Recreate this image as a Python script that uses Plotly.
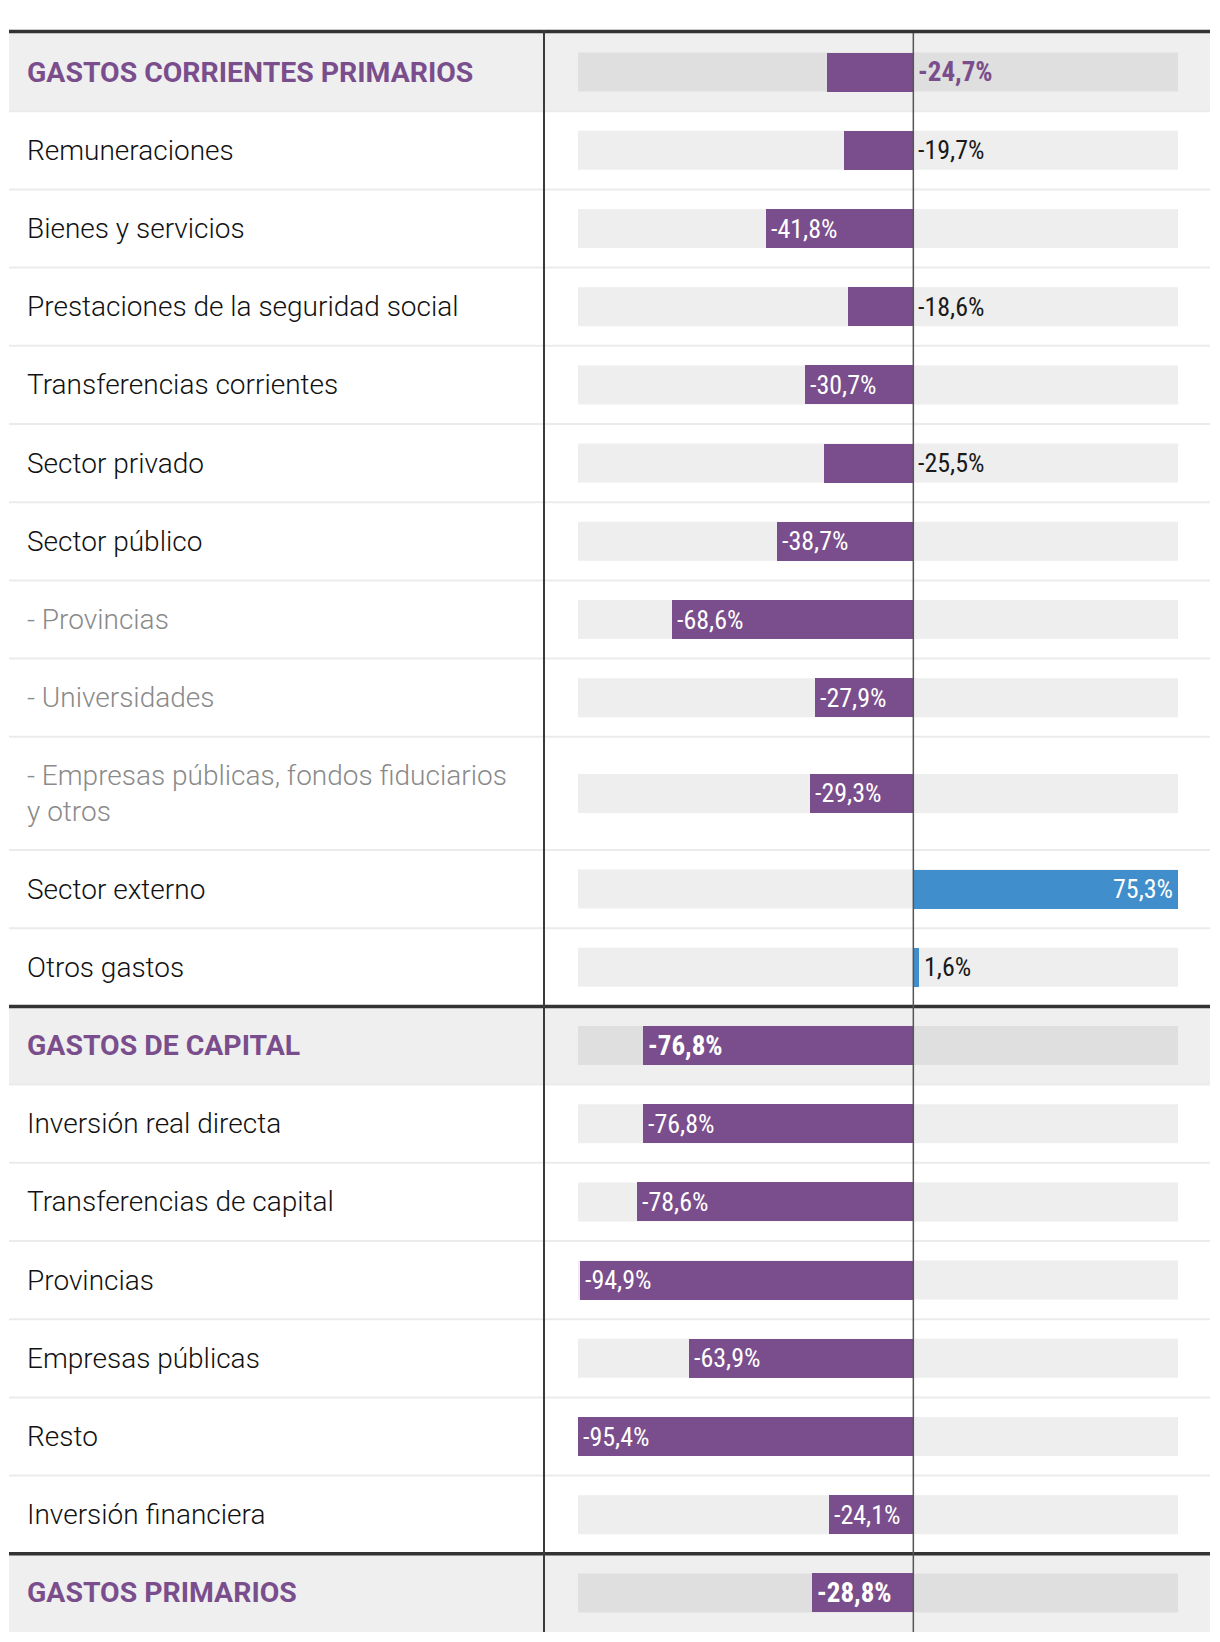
import plotly.graph_objects as go

# ---------------- data ----------------
labels = [
    "GASTOS CORRIENTES PRIMARIOS",
    "Remuneraciones",
    "Bienes y servicios",
    "Prestaciones de la seguridad social",
    "Transferencias corrientes",
    "Sector privado",
    "Sector público",
    "- Provincias",
    "- Universidades",
    "- Empresas públicas, fondos fiduciarios<br>y otros",
    "Sector externo",
    "Otros gastos",
    "GASTOS DE CAPITAL",
    "Inversión real directa",
    "Transferencias de capital",
    "Provincias",
    "Empresas públicas",
    "Resto",
    "Inversión financiera",
    "GASTOS PRIMARIOS",
]
values = [-24.7, -19.7, -41.8, -18.6, -30.7, -25.5, -38.7, -68.6, -27.9, -29.3,
          75.3, 1.6, -76.8, -76.8, -78.6, -94.9, -63.9, -95.4, -24.1, -28.8]
row_kind = ["header", "normal", "normal", "normal", "normal", "normal", "normal",
            "sub", "sub", "sub", "normal", "normal", "header", "normal", "normal",
            "normal", "normal", "normal", "normal", "header"]

# ---------------- style ----------------
label_place = ["out", "out", "in", "out", "in", "out", "in", "in", "in", "in",
               "in", "out", "in", "in", "in", "in", "in", "in", "in", "in"]

W, H = 1220, 1642
TOP = 33
ROW_H = 78.2
LINE_H = 35
BAR_H = 39
LEFT, RIGHT = 9, 1210
DIVIDER_X = 544
AX_X0, AX_X1 = 578, 1178

PURPLE = "#7a4e8c"
BLUE = "#408ecb"
HEADER_BG = "#efefef"
HEADER_BAR_BG = "#dfdfdf"
BAR_BG = "#eeeeee"
SEP = "#ebebeb"
DARK = "#333333"

LABEL_FONT = "Roboto, 'Noto Sans', sans-serif"
VAL_FONT = "'Liberation Sans Narrow', 'Roboto Condensed', 'DejaVu Sans Condensed', Roboto, sans-serif"

# row geometry
tops, bottoms, centers = [], [], []
y = TOP
for lab in labels:
    n = lab.count("<br>") + 1
    h = ROW_H + (n - 1) * LINE_H
    tops.append(y)
    bottoms.append(y + h)
    centers.append(y + h / 2)
    y += h
BOTTOM = y

vmin, vmax = min(values), max(values)

fig = go.Figure()
fig.add_trace(go.Bar(
    orientation="h",
    x=values,
    y=centers,
    width=BAR_H,
    marker=dict(color=[PURPLE if v < 0 else BLUE for v in values], line=dict(width=0)),
    hoverinfo="skip",
    showlegend=False,
))

shapes = []
annotations = []

for i, lab in enumerate(labels):
    kind = row_kind[i]
    if kind == "header":
        shapes.append(dict(type="rect", xref="paper", yref="y",
                           x0=LEFT / W, x1=RIGHT / W, y0=tops[i], y1=bottoms[i],
                           fillcolor=HEADER_BG, line=dict(width=0), layer="below"))
    shapes.append(dict(type="rect", xref="x", yref="y",
                       x0=vmin, x1=vmax, y0=centers[i] - BAR_H / 2, y1=centers[i] + BAR_H / 2,
                       fillcolor=HEADER_BAR_BG if kind == "header" else BAR_BG,
                       line=dict(width=0), layer="below"))

    # row label
    if kind == "header":
        font = dict(family=LABEL_FONT, size=28.4, color=PURPLE, weight="bold")
    elif kind == "sub":
        font = dict(family=LABEL_FONT, size=28, color="#8a8a8a", weight=300)
    else:
        font = dict(family=LABEL_FONT, size=28, color="#111111", weight=300)
    annotations.append(dict(x=25 / W, xref="paper", y=centers[i], yref="y",
                            text=lab, showarrow=False, xanchor="left", yanchor="middle",
                            align="left", font=font))

    # value label
    v = values[i]
    txt = f"{v:.1f}".replace(".", ",") + "%"
    bold = kind == "header"
    if label_place[i] == "in":
        color = "white"
        if v < 0:
            x, anchor, shift = v, "left", 3
        else:
            x, anchor, shift = v, "right", -3
    else:
        color = PURPLE if bold else "#1a1a1a"
        x, anchor, shift = max(v, 0), "left", 3
    annotations.append(dict(x=x, xref="x", y=centers[i], yref="y", text=txt,
                            showarrow=False, xanchor=anchor, yanchor="middle", xshift=shift,
                            font=dict(family=VAL_FONT, size=27 if bold else 26, color=color,
                                      weight="bold" if bold else "normal")))

# separators
for i in range(len(labels) - 1):
    yb = bottoms[i]
    if row_kind[i + 1] == "header":
        continue
    shapes.append(dict(type="line", xref="paper", yref="y", x0=LEFT / W, x1=RIGHT / W,
                       y0=yb, y1=yb, line=dict(color=SEP, width=2), layer="below"))
# thick dark lines
thick_ys = [TOP - 1.5] + [bottoms[i] for i in range(len(labels) - 1) if row_kind[i + 1] == "header"]
for yy in thick_ys:
    shapes.append(dict(type="line", xref="paper", yref="y", x0=LEFT / W, x1=RIGHT / W,
                       y0=yy, y1=yy, line=dict(color=DARK, width=3.5), layer="above"))

# vertical divider and zero line
shapes.append(dict(type="line", xref="paper", yref="y", x0=DIVIDER_X / W, x1=DIVIDER_X / W,
                   y0=TOP - 3, y1=BOTTOM, line=dict(color="#3a3a3a", width=2), layer="above"))
shapes.append(dict(type="line", xref="x", yref="y", x0=0, x1=0,
                   y0=TOP, y1=BOTTOM, line=dict(color="#555555", width=1.5), layer="above"))

fig.update_layout(
    width=W, height=H,
    margin=dict(l=0, r=0, t=0, b=0),
    paper_bgcolor="white", plot_bgcolor="white",
    xaxis=dict(domain=[AX_X0 / W, AX_X1 / W], range=[vmin, vmax], visible=False, fixedrange=True),
    yaxis=dict(domain=[0, 1], range=[H, 0], visible=False, fixedrange=True),
    shapes=shapes,
    annotations=annotations,
    bargap=0,
)

fig.write_html("out.html", config={"displayModeBar": False},
               post_script="document.body.style.margin='0';")
